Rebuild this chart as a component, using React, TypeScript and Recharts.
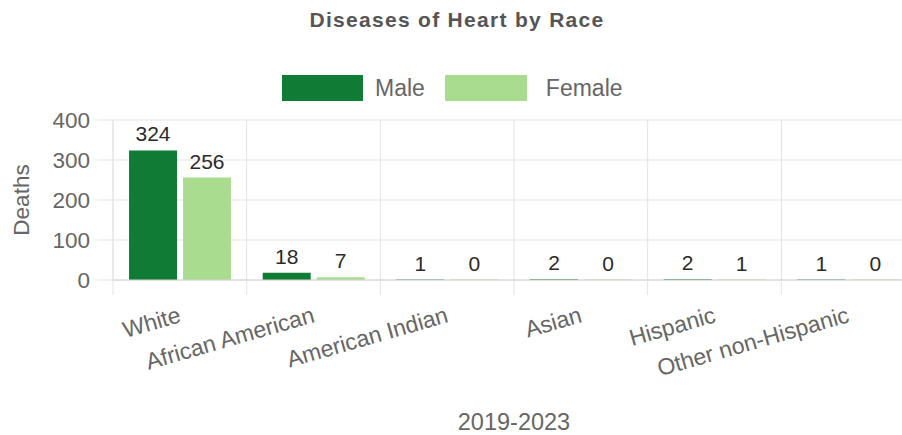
import {
  Bar,
  BarChart,
  CartesianGrid,
  Label,
  LabelList,
  Legend,
  XAxis,
  YAxis,
} from "recharts";

const races = [
  "White",
  "African American",
  "American Indian",
  "Asian",
  "Hispanic",
  "Other non-Hispanic",
];
const maleDeaths = [324, 18, 1, 2, 2, 1];
const femaleDeaths = [256, 7, 0, 0, 1, 0];
const yTicks = [0, 100, 200, 300, 400];

const data = races.map((race, i) => ({
  race,
  male: maleDeaths[i],
  female: femaleDeaths[i],
}));

const MALE = "#0f7b35";
const FEMALE = "#a9dc8e";
const GRID = "#e3e3e3";
const TEXT = "#666";
const FONT = "'Liberation Sans', Arial, sans-serif";

const CHART_W = 930;
const CHART_H = 435;
const Y_AXIS_W = 113;
const MARGIN = { top: 120, right: 15, bottom: 0, left: 0 };
const PLOT_BOTTOM = 280;
const BAND = (CHART_W - MARGIN.left - MARGIN.right - Y_AXIS_W) / races.length;

// vertical grid sits on category borders, not on the centres
const borderLines = ({ offset }: any) => {
  const left = offset?.left ?? Y_AXIS_W;
  const width = offset?.width ?? BAND * races.length;
  return races.map((_, i) => left + (i * width) / races.length).concat(left + width);
};

const RaceTick = (props: any) => {
  const { x, y, payload } = props;
  return (
    <g>
      <line
        x1={x - BAND / 2}
        x2={x - BAND / 2}
        y1={PLOT_BOTTOM}
        y2={PLOT_BOTTOM + 15}
        stroke={GRID}
      />
      <text
        transform={`translate(${x},${y + 24}) rotate(-16)`}
        textAnchor="end"
        dy="0.35em"
        fill={TEXT}
        fontSize={23}
      >
        {payload.value}
      </text>
    </g>
  );
};

// value labels drawn by hand so that zero-height bars still get their "0"
const ValueLabel = (props: any) => {
  const { x, y, width, value } = props;
  return (
    <text x={x + width / 2} y={y - 9} textAnchor="middle" fill="#2a2a2a" fontSize={21}>
      {value}
    </text>
  );
};

const LegendBoxes = () => (
  <div style={{ display: "flex", alignItems: "center", height: 26, fontSize: 23, color: TEXT }}>
    <span style={{ width: 81, height: 26, background: MALE, display: "inline-block" }} />
    <span style={{ marginLeft: 12 }}>Male</span>
    <span style={{ width: 82, height: 26, background: FEMALE, display: "inline-block", marginLeft: 20 }} />
    <span style={{ marginLeft: 19 }}>Female</span>
  </div>
);

export default function App() {
  return (
    <div
      style={{
        position: "absolute",
        left: 0,
        top: 0,
        width: 902,
        height: 435,
        overflow: "hidden",
        background: "#fff",
        fontFamily: FONT,
      }}
    >
      <div
        style={{
          position: "absolute",
          top: 8,
          left: 0,
          width: 914,
          textAlign: "center",
          fontSize: 21,
          lineHeight: "24px",
          fontWeight: "bold",
          letterSpacing: 1.3,
          color: "#555",
        }}
      >
        Diseases of Heart by Race
      </div>
      <BarChart
        width={CHART_W}
        height={CHART_H}
        data={data}
        margin={MARGIN}
        barCategoryGap="12%"
        barGap={6}
        style={{ fontFamily: FONT }}
      >
        <CartesianGrid stroke={GRID} verticalCoordinatesGenerator={borderLines} />
        <XAxis
          dataKey="race"
          height={155}
          interval={0}
          tickLine={false}
          tickSize={8}
          tickMargin={2}
          axisLine={{ stroke: "#d4d4d4" }}
          tick={<RaceTick />}
        >
          <Label
            value="2019-2023"
            position="insideBottom"
            offset={5}
            fill={TEXT}
            fontSize={23.5}
          />
        </XAxis>
        <YAxis
          width={Y_AXIS_W}
          domain={[0, 400]}
          ticks={yTicks}
          tickSize={16}
          tickMargin={7}
          tickLine={{ stroke: GRID }}
          axisLine={{ stroke: GRID }}
          tick={{ fill: TEXT, fontSize: 22.5 }}
        >
          <Label
            content={({ viewBox }: any) => (
              <text
                transform={`translate(21,${viewBox.y + viewBox.height / 2}) rotate(-90)`}
                textAnchor="middle"
                dy="0.35em"
                fill={TEXT}
                fontSize={22.5}
              >
                Deaths
              </text>
            )}
          />
        </YAxis>
        <Legend
          layout="horizontal"
          verticalAlign="middle"
          align="center"
          wrapperStyle={{ top: 75, left: 282, width: "auto" }}
          content={<LegendBoxes />}
        />
        <Bar dataKey="male" name="Male" fill={MALE} minPointSize={0.5} isAnimationActive={false}>
          <LabelList dataKey="male" content={<ValueLabel />} />
        </Bar>
        <Bar dataKey="female" name="Female" fill={FEMALE} minPointSize={0.5} isAnimationActive={false}>
          <LabelList dataKey="female" content={<ValueLabel />} />
        </Bar>
      </BarChart>
    </div>
  );
}
